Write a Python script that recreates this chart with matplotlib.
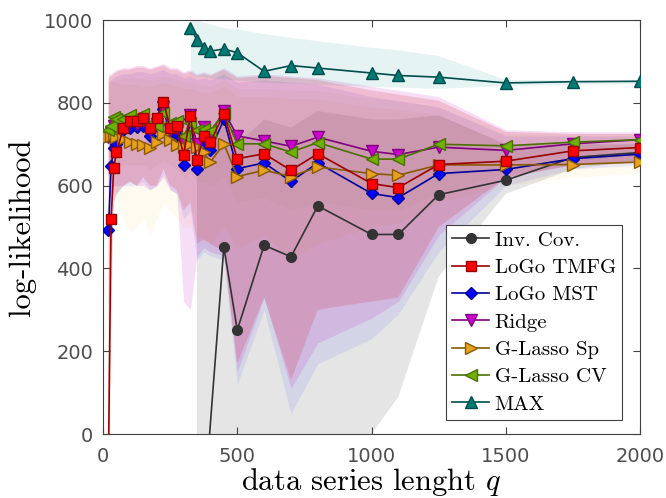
import matplotlib
matplotlib.use("Agg")
import matplotlib.pyplot as plt

# shared q grid for the LoGo / Ridge / G-Lasso curves
X = [20, 30, 40, 50, 75, 100, 125, 150, 175, 200, 225, 250, 275, 300, 325, 350,
     375, 400, 450, 500, 600, 700, 800, 1000, 1100, 1250, 1500, 1750, 2000]

TMFG = [-80, 520, 643, 680, 738, 757, 755, 764, 740, 764, 803, 739, 743, 674, 767, 661,
        719, 706, 773, 665, 677, 637, 677, 605, 595, 651, 659, 684, 692]
MST = [492, 647, 690, 700, 735, 740, 741, 745, 721, 745, 786, 720, 722, 651, 760, 639,
       700, 685, 760, 641, 655, 610, 655, 581, 571, 629, 639, 665, 676]
RIDGE = [718, 730, 745, 750, 755, 755, 750, 755, 735, 750, 790, 735, 740, 700, 770, 700,
         741, 725, 780, 720, 708, 695, 717, 683, 675, 693, 685, 701, 711]
GLSP = [717, 720, 725, 718, 712, 705, 701, 697, 692, 705, 725, 709, 697, 693, 700, 693,
        680, 657, 701, 622, 637, 622, 645, 629, 625, 650, 650, 651, 657]
GLCV = [735, 745, 765, 760, 762, 770, 765, 773, 750, 745, 775, 752, 757, 720, 752, 735,
        737, 733, 775, 701, 701, 681, 704, 664, 664, 700, 696, 705, 711]

TMFG_LO = [-500, 250, 560, 580, 600, 610, 600, 620, 600, 600, 640, 600, 590, 540, 560, 460,
           470, 460, 440, 170, 330, 130, 300, 320, 330, 500, 620, 650, 660]
TMFG_HI = [860, 865, 870, 875, 880, 880, 885, 885, 880, 885, 890, 880, 880, 870, 875, 865,
           870, 865, 880, 860, 865, 860, 855, 830, 820, 805, 730, 725, 725]
MST_LO = [300, 450, 560, 580, 600, 600, 600, 610, 590, 600, 630, 590, 580, 520, 540, 420,
          440, 430, 420, 120, 300, 50, 170, 230, 290, 440, 600, 640, 650]
MST_HI = [850, 855, 860, 865, 870, 870, 875, 875, 870, 875, 880, 870, 870, 860, 865, 855,
          860, 855, 870, 850, 855, 850, 845, 815, 805, 790, 720, 720, 720]
RIDGE_LO = [560, 580, 600, 600, 600, 610, 600, 600, 590, 600, 620, 590, 580, 320, 300, 430,
            450, 440, 430, 150, 330, 110, 220, 280, 320, 480, 620, 650, 660]
RIDGE_HI = [870, 870, 875, 880, 885, 885, 890, 890, 885, 890, 895, 885, 885, 875, 880, 870,
            875, 870, 885, 865, 870, 865, 860, 840, 830, 815, 735, 730, 730]
GLSP_LO = [600, 620, 600, 560, 520, 490, 500, 520, 480, 520, 560, 540, 520, 500, 500, 480,
           470, 460, 500, 450, 480, 420, 460, 500, 510, 560, 600, 620, 630]
GLSP_HI = [860, 855, 850, 850, 845, 845, 845, 840, 840, 845, 850, 845, 840, 835, 835, 830,
           825, 825, 840, 815, 815, 810, 810, 790, 785, 770, 700, 700, 700]
GLCV_LO = [620, 640, 650, 650, 650, 650, 650, 650, 640, 650, 660, 650, 640, 620, 630, 610,
           610, 600, 620, 560, 570, 540, 560, 540, 540, 580, 630, 650, 660]
GLCV_HI = [850, 850, 855, 855, 860, 860, 860, 860, 855, 860, 865, 860, 855, 850, 850, 845,
           845, 840, 855, 835, 835, 830, 830, 810, 805, 790, 725, 725, 725]

INV_X = [350, 450, 500, 600, 700, 800, 1000, 1100, 1250, 1500, 1750, 2000]
INV = [-400, 452, 251, 456, 428, 551, 482, 482, 578, 613, 668, 680]
INV_LO = [-3000, -2000, -2000, -1500, -1500, -1000, 0, 90, 380, 580, 640, 660]
INV_HI = [620, 760, 700, 760, 740, 780, 760, 760, 770, 700, 700, 700]

MAX_X = [325, 350, 375, 400, 450, 500, 600, 700, 800, 1000, 1100, 1250, 1500, 1750, 2000]
MAX = [981, 952, 933, 925, 930, 921, 876, 890, 884, 872, 866, 862, 848, 851, 852]
MAX_LO = [870, 865, 862, 860, 858, 855, 850, 848, 845, 840, 838, 835, 842, 845, 846]
MAX_HI = [1010, 1000, 995, 990, 982, 978, 967, 958, 950, 934, 928, 914, 856, 856, 856]

plt.rcParams['mathtext.fontset'] = 'cm'
plt.rcParams['axes.unicode_minus'] = False

fig = plt.figure(figsize=(6.66, 4.98), dpi=100)
ax = fig.add_axes([0.1547, 0.1285, 0.8063, 0.8313])

# shaded ranges
ax.fill_between(INV_X, INV_LO, INV_HI, color='#808080', alpha=0.2, lw=0, zorder=1)
ax.fill_between(X, GLSP_LO, GLSP_HI, color='#f0c040', alpha=0.08, lw=0, zorder=1)
ax.fill_between(X, GLCV_LO, GLCV_HI, color='#80b000', alpha=0.05, lw=0, zorder=1)
ax.fill_between(X, MST_LO, MST_HI, color='#4040ff', alpha=0.10, lw=0, zorder=1)
ax.fill_between(X, RIDGE_LO, RIDGE_HI, color='#c000c0', alpha=0.13, lw=0, zorder=1)
ax.fill_between(X, TMFG_LO, TMFG_HI, color='#d00000', alpha=0.15, lw=0, zorder=1)
ax.fill_between(MAX_X, MAX_LO, MAX_HI, color='#008b80', alpha=0.1, lw=0, zorder=1)

h_inv, = ax.plot(INV_X, INV, '-o', color='#333333', mfc='#333333', mec='#333333',
                 ms=7, lw=1.2, label='Inv. Cov.', zorder=3)
h_mst, = ax.plot(X, MST, '-D', color='#000099', mfc='#0000ff', mec='#000099',
                 ms=6, lw=1.2, label='LoGo MST', zorder=3)
h_ridge, = ax.plot(X, RIDGE, '-v', color='#800080', mfc='#cc00cc', mec='#800080',
                   ms=8, lw=1.2, label='Ridge', zorder=3)
h_glsp, = ax.plot(X, GLSP, '->', color='#8a5a00', mfc='#e8a020', mec='#8a5a00',
                  ms=8, lw=1.2, label='G-Lasso Sp', zorder=3)
h_glcv, = ax.plot(X, GLCV, '-<', color='#4a7000', mfc='#70b000', mec='#4a7000',
                  ms=8, lw=1.2, label='G-Lasso CV', zorder=3)
h_tmfg, = ax.plot(X, TMFG, '-s', color='#990000', mfc='#ff0000', mec='#990000',
                  ms=6.5, lw=1.2, label='LoGo TMFG', zorder=4)
h_max, = ax.plot(MAX_X, MAX, '-^', color='#004d4d', mfc='#007a73', mec='#004d4d',
                 ms=8.5, lw=1.2, label='MAX', zorder=4)

ax.set_xlim(0, 2000)
ax.set_ylim(0, 1000)
ax.set_xticks([0, 500, 1000, 1500, 2000])
ax.set_yticks([0, 200, 400, 600, 800, 1000])
ax.tick_params(direction='in', top=True, right=True, length=5, width=0.8,
               labelsize=14, labelcolor='#4d4d4d', color='#404040')
ax.tick_params(axis='x', pad=9)
ax.tick_params(axis='y', pad=7)
for s in ax.spines.values():
    s.set_color('#404040')
    s.set_linewidth(0.8)

ax.set_xlabel('data series lenght $q$', family='cmr10', fontsize=22, labelpad=0)
ax.set_ylabel('log-likelihood', family='cmr10', fontsize=22, labelpad=6)

leg = ax.legend(handles=[h_inv, h_tmfg, h_mst, h_ridge, h_glsp, h_glcv, h_max],
                loc='lower right', bbox_to_anchor=(0.9665, 0.0338),
                prop={'family': 'cmr10', 'size': 15}, fancybox=False,
                framealpha=1, edgecolor='#404040', handlelength=1.8,
                handletextpad=0.25, labelspacing=0.42, borderaxespad=0,
                borderpad=0.3)
leg.get_frame().set_linewidth(0.8)

fig.savefig('out.png', dpi=100)
